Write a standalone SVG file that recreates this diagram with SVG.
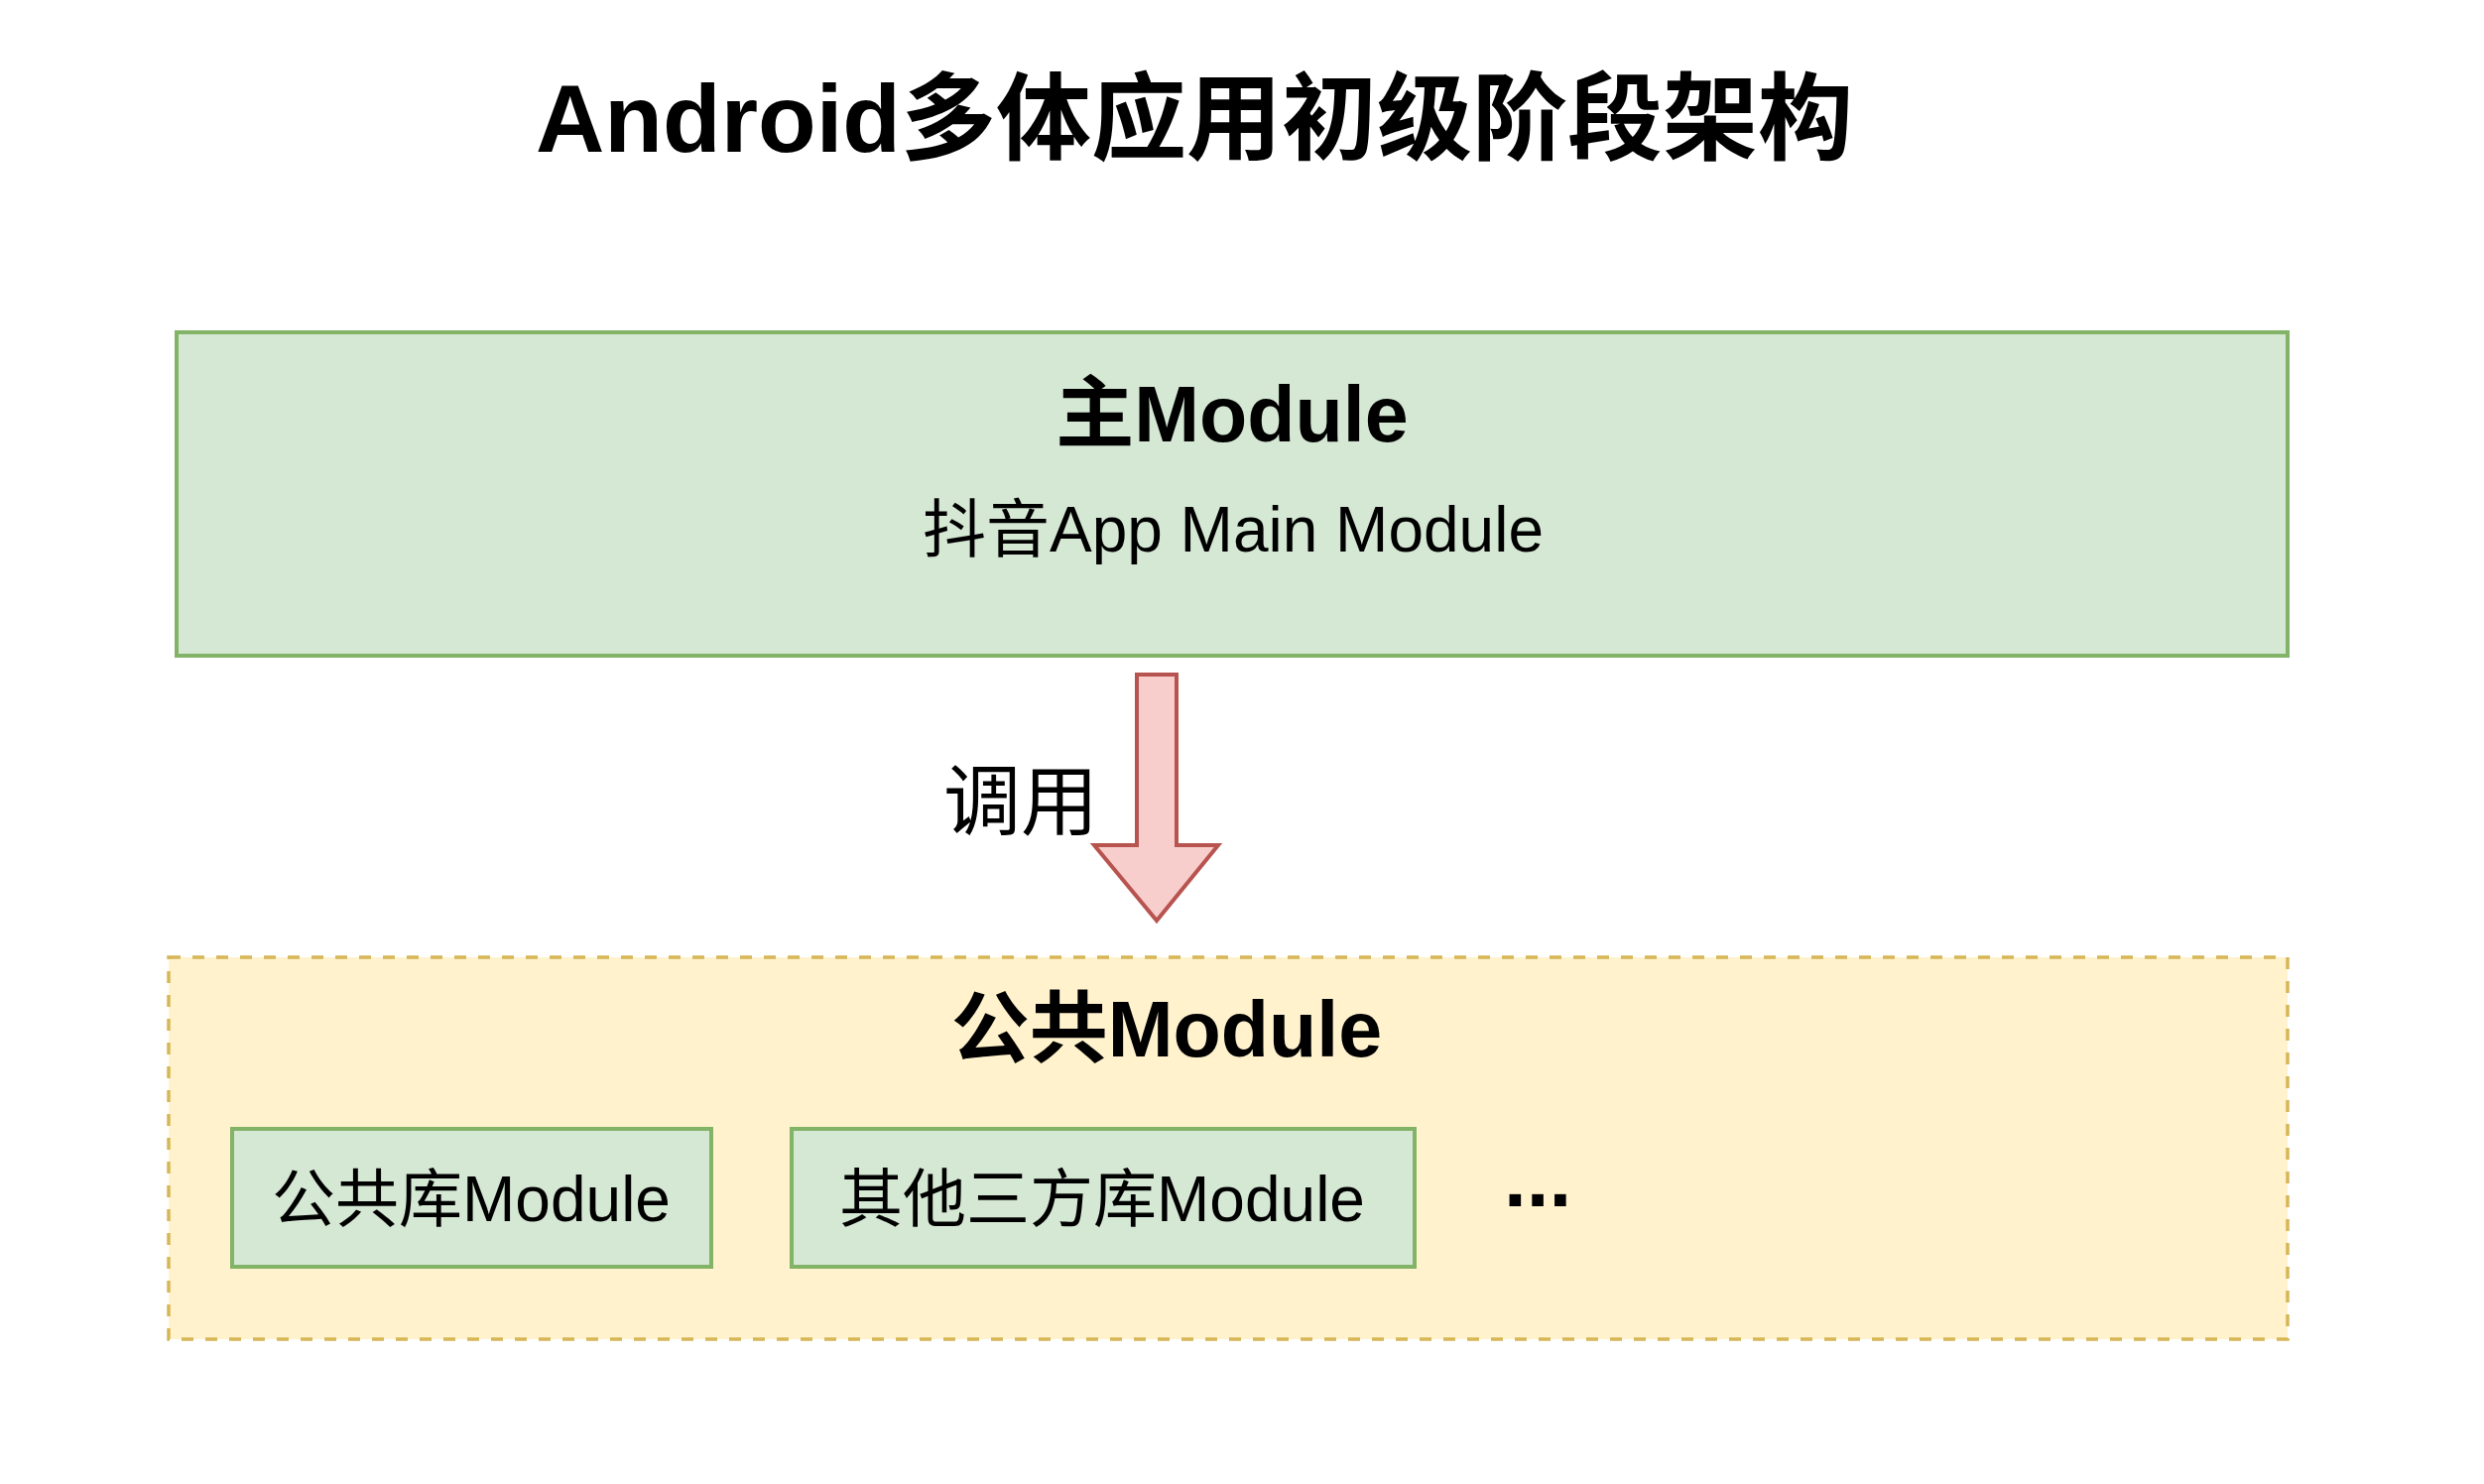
<svg xmlns="http://www.w3.org/2000/svg" width="2504" height="1496" viewBox="0 0 2504 1496">
  <style>
    text { font-family: "Liberation Sans", "Noto Sans CJK SC", sans-serif; fill: #000000; }
    .title { font-size: 96px; font-weight: bold; text-anchor: middle; }
    .head { font-size: 79px; font-weight: bold; text-anchor: middle; }
    .sub { font-size: 64px; text-anchor: middle; }
    .lbl { font-size: 78px; text-anchor: middle; }
    .green { fill: #d5e8d4; stroke: #82b366; stroke-width: 4; }
    .yellow { fill: #fff2cc; stroke: #d6b656; stroke-width: 3.5; stroke-dasharray: 12 12; }
    .arrow { fill: #f8cecc; stroke: #b85450; stroke-width: 4; stroke-linejoin: miter; }
  </style>
  <rect width="2504" height="1496" fill="#ffffff"/>

  <g id="title">
    <text class="title" x="1204" y="153">Android多体应用初级阶段架构</text>
  </g>

  <g id="main-module">
    <rect class="green" x="178" y="335" width="2128" height="326"/>
    <text class="head" x="1242" y="445">主Module</text>
    <text class="sub" x="1243" y="556">抖音App Main Module</text>
  </g>

  <g id="public-module">
    <rect class="yellow" x="170" y="965" width="2136" height="385"/>
    <text class="head" x="1176" y="1065">公共Module</text>
  </g>

  <g id="common-lib-module">
    <rect class="green" x="234" y="1138" width="483" height="139"/>
    <text class="sub" x="475" y="1231">公共库Module</text>
  </g>

  <g id="third-party-module">
    <rect class="green" x="798" y="1138" width="628" height="139"/>
    <text class="sub" x="1111" y="1231">其他三方库Module</text>
  </g>

  <g id="more">
    <text x="1516" y="1216" style="font-size:82px;font-weight:bold;">...</text>
  </g>

  <g id="connectors">
    <path class="arrow" d="M1146,680 L1186,680 L1186,852 L1228,852 L1166,928 L1103,852 L1146,852 Z"/>
    <text class="lbl" x="1029" y="836">调用</text>
  </g>
</svg>
